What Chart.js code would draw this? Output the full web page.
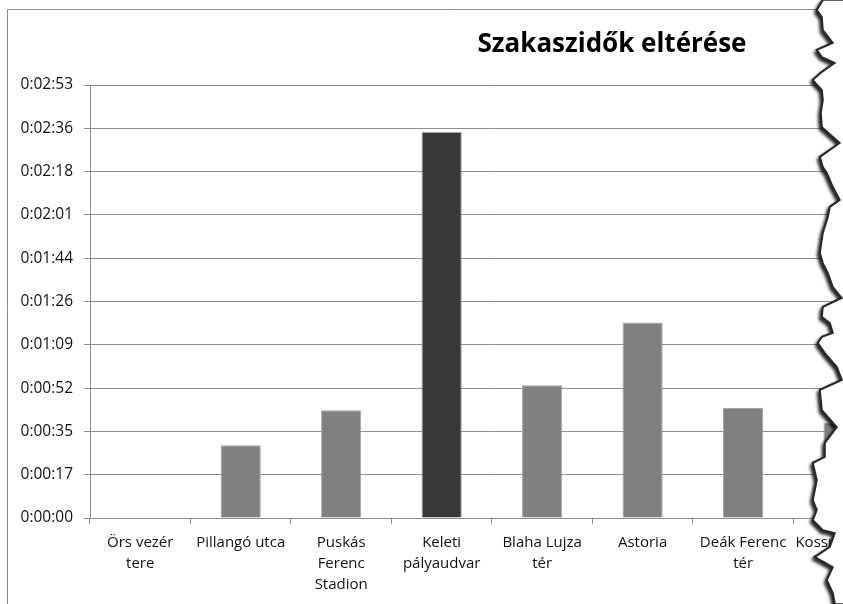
<!DOCTYPE html>
<html>
<head>
<meta charset="utf-8">
<script src="https://cdn.jsdelivr.net/npm/chart.js@4/dist/chart.umd.min.js"></script>
<style>
  html, body { margin: 0; padding: 0; background: #fff; overflow: hidden; }
  #wrap { position: relative; width: 843px; height: 604px; overflow: hidden; }
  #chart { position: absolute; left: 0; top: 0; }
  #edge { position: absolute; left: 0; top: 0; }
</style>
</head>
<body>
<div id="wrap">
  <canvas id="chart" width="900" height="604"></canvas>
  <svg id="edge" width="843" height="604" viewBox="0 0 843 604">
    <defs>
      <filter id="shadow" x="-20%" y="-5%" width="140%" height="110%">
        <feDropShadow dx="-2" dy="2.5" stdDeviation="1.6" flood-color="#000" flood-opacity="0.85"/>
      </filter>
    </defs>
    <g id="tear"></g>
  </svg>
</div>
<script>
const titleText = 'Szakaszidők eltérése';

const stations = [
  ['Örs vezér', 'tere'],
  ['Pillangó utca'],
  ['Puskás', 'Ferenc', 'Stadion'],
  ['Keleti', 'pályaudvar'],
  ['Blaha Lujza', 'tér'],
  ['Astoria'],
  ['Deák Ferenc', 'tér'],
  ['Kossuth Lajos', 'tér']
];

// eltérés másodpercben
const deviationSeconds = [0, 29, 43, 154, 53, 78, 44, 38];

const barColors = ['#808080', '#808080', '#808080', '#383838', '#808080', '#808080', '#808080', '#808080'];

const tickLabels = ['0:00:00', '0:00:17', '0:00:35', '0:00:52', '0:01:09', '0:01:26',
  '0:01:44', '0:02:01', '0:02:18', '0:02:36', '0:02:53'];
const tickStep = 17.28; // 0.0002 nap

// szakadt papírszél
const tearPoints = [
  [823, 0], [817, 10], [822, 17], [823, 30], [833, 43], [817, 50], [822, 57], [835, 63],
  [822, 72], [813, 80], [822, 90], [823, 100], [821, 113], [822, 127], [840, 143], [820, 157],
  [823, 167], [827, 173], [833, 187], [840, 200], [830, 207], [828, 217], [823, 233], [820, 253],
  [823, 263], [828, 273], [833, 287], [842, 298], [823, 307], [822, 317], [830, 323], [833, 333],
  [822, 337], [818, 343], [825, 353], [837, 367], [842, 380], [820, 390], [822, 410], [837, 427],
  [825, 443], [825, 457], [813, 463], [817, 480], [813, 500], [817, 510], [813, 520], [823, 530],
  [835, 533], [830, 547], [815, 557], [833, 567], [827, 580], [833, 593], [835, 604]
];

const gridGray = '#8e8e8e';
const font = 'Open Sans, Noto Sans, sans-serif';

const frameAndTitle = {
  id: 'frameAndTitle',
  beforeDraw(chart) {
    const ctx = chart.ctx;
    ctx.save();
    ctx.strokeStyle = '#8a8a8a';
    ctx.lineWidth = 1;
    ctx.beginPath();
    ctx.moveTo(7.5, 620);
    ctx.lineTo(7.5, 9.5);
    ctx.lineTo(900, 9.5);
    ctx.stroke();
    ctx.restore();
  },
  afterDraw(chart) {
    const ctx = chart.ctx;
    ctx.save();
    ctx.fillStyle = '#000';
    ctx.font = 'bold 26px ' + font;
    ctx.textAlign = 'center';
    ctx.textBaseline = 'alphabetic';
    ctx.fillText(titleText, 612, 52);
    ctx.restore();
  }
};

new Chart(document.getElementById('chart'), {
  type: 'bar',
  data: {
    labels: stations,
    datasets: [{
      data: deviationSeconds,
      backgroundColor: barColors,
      borderColor: '#a3a3a3',
      borderWidth: 1,
      barPercentage: 0.4,
      categoryPercentage: 1
    }]
  },
  options: {
    responsive: false,
    animation: false,
    devicePixelRatio: 1,
    layout: { padding: { top: 85, left: 0, right: 5, bottom: 0 } },
    plugins: {
      legend: { display: false },
      tooltip: { enabled: false },
      title: { display: false }
    },
    scales: {
      x: {
        type: 'category',
        afterFit(scale) { scale.height = 86; },
        grid: {
          offset: true,
          drawOnChartArea: false,
          drawTicks: true,
          tickLength: 6,
          color: gridGray
        },
        border: { display: true, color: gridGray, width: 1 },
        ticks: {
          maxRotation: 0,
          minRotation: 0,
          autoSkip: false,
          padding: 8,
          color: '#111',
          font: { family: font, size: 15, lineHeight: 1.4 }
        }
      },
      y: {
        min: 0,
        max: tickStep * (tickLabels.length - 1),
        afterFit(scale) { scale.width = 90; },
        afterBuildTicks(scale) {
          scale.ticks = tickLabels.map((l, i) => ({ value: i * tickStep }));
        },
        grid: {
          color: gridGray,
          lineWidth: 1,
          drawTicks: true,
          tickLength: 6
        },
        border: { display: true, color: gridGray, width: 1 },
        ticks: {
          padding: 11,
          color: '#111',
          font: { family: font, size: 15.5 },
          callback: (v, i) => tickLabels[i]
        }
      }
    }
  },
  plugins: [frameAndTitle]
});

// szakadt szél rajzolása
const tear = document.getElementById('tear');
const edgePath = tearPoints.map((p, i) => (i ? 'L' : 'M') + p[0] + ',' + p[1]).join(' ');
const ns = 'http://www.w3.org/2000/svg';
const shadowPath = document.createElementNS(ns, 'path');
shadowPath.setAttribute('d', edgePath + ' L900,604 L900,0 Z');
shadowPath.setAttribute('fill', '#fff');
shadowPath.setAttribute('stroke', '#222');
shadowPath.setAttribute('stroke-width', '2.5');
shadowPath.setAttribute('filter', 'url(#shadow)');
tear.appendChild(shadowPath);
const cover = document.createElementNS(ns, 'path');
cover.setAttribute('d', edgePath + ' L900,604 L900,0 Z');
cover.setAttribute('fill', '#fff');
cover.setAttribute('stroke', '#2a2a2a');
cover.setAttribute('stroke-width', '1.6');
tear.appendChild(cover);
</script>
</body>
</html>
